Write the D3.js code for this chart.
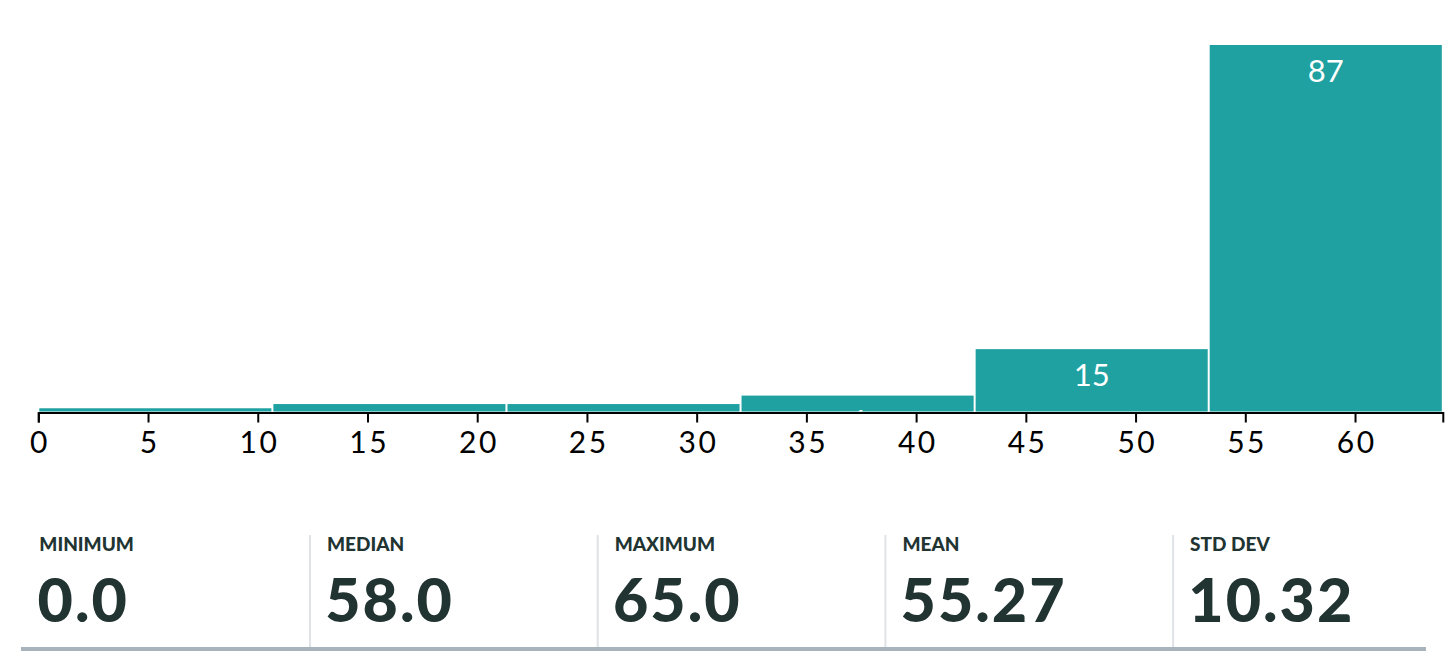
<!DOCTYPE html>
<html>
<head>
<meta charset="utf-8">
<script src="https://cdn.jsdelivr.net/npm/d3@7"></script>
<style>
  html, body { margin: 0; padding: 0; background: #ffffff; }
  svg { display: block; }
</style>
</head>
<body>
<svg id="chart" width="1455" height="670"></svg>
<script>
// ---- data ----
const binLow  = [0, 10.667, 21.333, 32, 42.667, 53.333];
const binHigh = [10.667, 21.333, 32, 42.667, 53.333, 64];
const counts  = [1, 2, 2, 4, 15, 87];
const xTicks  = [0, 5, 10, 15, 20, 25, 30, 35, 40, 45, 50, 55, 60];
const xDomain = [0, 64];
const statLabels = ["MINIMUM", "MEDIAN", "MAXIMUM", "MEAN", "STD DEV"];
const statValues = ["0.0", "58.0", "65.0", "55.27", "10.32"];

// ---- layout ----
const svg = d3.select("#chart");
const FONT = "Lato, 'Open Sans', sans-serif";
const TEAL = "#1ea1a0";
const DARK = "#213432";
const axisY = 412.5;
const LABEL_OFFSET = 37.8, LABEL_CAP = 22.5;

const x = d3.scaleLinear().domain(xDomain).range([38.3, 1442.8]);
const y = d3.scaleLinear().domain([0, d3.max(counts)]).range([411.5, 44]);

const bins = counts.map((c, i) => ({ lo: binLow[i], hi: binHigh[i], c, i }));

const defs = svg.append("defs");
defs.selectAll("clipPath").data(bins).join("clipPath")
  .attr("id", d => "clip" + d.i)
  .append("rect")
  .attr("x", d => x(d.lo) + 1)
  .attr("y", d => y(d.c) + 1)
  .attr("width", d => x(d.hi) - x(d.lo) - 2)
  .attr("height", d => y(0) - y(d.c) - 1);

// bars
svg.append("g").selectAll("rect").data(bins).join("rect")
  .attr("x", d => x(d.lo) + 1)
  .attr("y", d => y(d.c) + 1)
  .attr("width", d => x(d.hi) - x(d.lo) - 2)
  .attr("height", d => Math.max(0, y(0) - y(d.c) - 1))
  .attr("fill", TEAL);

// axis
const TICK_LS = 2.5;
const axis = d3.axisBottom(x).tickValues(xTicks).tickSize(10).tickSizeOuter(10)
  .tickFormat(d3.format("d"));
const gAxis = svg.append("g").attr("transform", `translate(0,${axisY})`).call(axis);
gAxis.select(".domain").attr("stroke", "#000").attr("stroke-width", 2);
gAxis.selectAll(".tick line").attr("stroke", "#000").attr("stroke-width", 2);
gAxis.selectAll(".tick text")
  .attr("fill", "#000")
  .attr("y", 40.5).attr("dy", null)
  .attr("x", TICK_LS / 2)
  .style("font-family", FONT).style("font-size", "30px")
  .style("letter-spacing", TICK_LS + "px");

// value labels (clipped to their bars; only those that reach into the bar)
svg.append("g").selectAll("text")
  .data(bins.filter(d => y(d.c) + LABEL_OFFSET - LABEL_CAP < y(0)))
  .join("text")
  .attr("clip-path", d => `url(#clip${d.i})`)
  .attr("x", d => (x(d.lo) + x(d.hi)) / 2)
  .attr("y", d => y(d.c) + LABEL_OFFSET)
  .attr("text-anchor", "middle")
  .attr("fill", "#ffffff")
  .style("font-family", FONT).style("font-size", "31px")
  .text(d => d.c);

// ---- stats row ----
const colW = 287.7;
const stats = statLabels.map((l, i) => ({ l, v: statValues[i], i }));
const gs = svg.append("g");
gs.selectAll("line.div").data(stats.filter(d => d.i > 0)).join("line")
  .attr("class", "div")
  .attr("x1", d => 22.3 + d.i * colW).attr("x2", d => 22.3 + d.i * colW)
  .attr("y1", 535).attr("y2", 647)
  .attr("stroke", "#dfe2e6").attr("stroke-width", 2);
gs.selectAll("text.lab").data(stats).join("text")
  .attr("class", "lab")
  .attr("x", d => 39.3 + d.i * colW)
  .attr("y", 551)
  .attr("fill", DARK)
  .style("font-family", FONT).style("font-weight", 900).style("font-size", "19px")
  .text(d => d.l);
gs.selectAll("text.val").data(stats).join("text")
  .attr("class", "val")
  .attr("x", d => 37.5 + d.i * colW)
  .attr("y", 621.5)
  .attr("fill", DARK)
  .style("font-family", FONT).style("font-weight", 900).style("font-size", "61px")
  .style("letter-spacing", "2px")
  .text(d => d.v);
gs.append("rect")
  .attr("x", 21).attr("y", 647)
  .attr("width", 1405).attr("height", 4)
  .attr("fill", "#a9b3bc");
</script>
</body>
</html>
